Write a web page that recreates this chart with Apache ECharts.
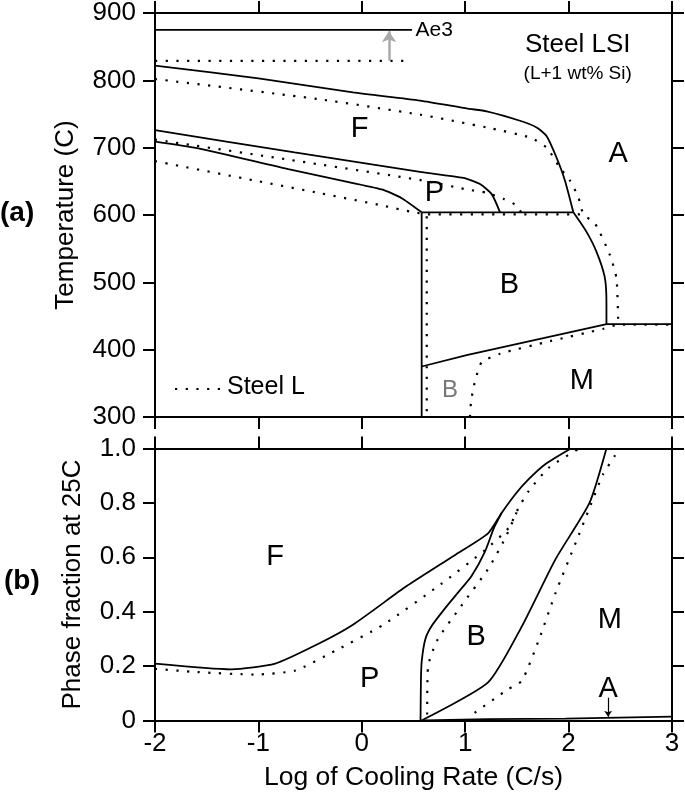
<!DOCTYPE html>
<html>
<head>
<meta charset="utf-8">
<script src="https://cdn.jsdelivr.net/npm/echarts@6/dist/echarts.min.js"></script>
<style>
html,body{margin:0;padding:0;background:#fff;}
#chart{width:685px;height:801px;}
</style>
</head>
<body>
<div id="chart"></div>
<script>
// ---------- Data ----------
// x = log10 of cooling rate (C/s)
const xTickValues = [-2, -1, 0, 1, 2, 3];
const tempTickValues = [300, 400, 500, 600, 700, 800, 900];
const fracTickValues = [0, 0.2, 0.4, 0.6, 0.8, 1.0];

// (a) Steel LSI (solid lines), temperature (C)
const lsiAe3 = [[-2, 875], [0.486, 875]];
const lsiFerriteStart = [[-2, 822], [-1, 803], [-0.086, 782], [0.563, 770], [1.025, 758], [1.208, 754], [1.53, 740], [1.691, 730], [1.788, 717], [1.884, 685], [1.965, 651], [2.046, 604]];
const lsiBainiteStart = [[2.046, 604], [2.169, 576], [2.268, 546], [2.349, 508], [2.366, 470], [2.366, 438]];
const lsiPearliteStart = [[-2, 726], [-0.65, 693], [0.563, 664], [0.982, 655], [1.143, 646], [1.256, 631], [1.337, 604]];
const lsiPearliteFinish = [[-2, 709], [-1.58, 699], [-0.711, 668], [-0.195, 651], [0.192, 638], [0.386, 625], [0.579, 604]];
const lsiBainitePlateau = [[0.579, 604], [2.046, 604]];
const lsiBainiteLeft = [[0.579, 604], [0.579, 300]];
const lsiMartensiteStart = [[0.579, 375], [1.014, 392], [2.368, 438], [3, 438]];

// (a) Steel L (dotted lines)
const lAe3 = [[-2, 829], [0.48, 829]];
const lFerriteStart = [[-2, 802], [-0.414, 772], [0.563, 749], [1.208, 730], [1.627, 715], [1.788, 700], [1.917, 670], [2.014, 651], [2.095, 626], [2.144, 601], [2.257, 587], [2.398, 541], [2.463, 506], [2.48, 437]];
const lPearliteStart = [[-2, 712], [-0.7, 682], [0.58, 651.5], [1.014, 638], [1.208, 633], [1.369, 624], [1.498, 614], [1.55, 601]];
const lPearliteFinish = [[-2, 680], [-1.03, 651], [-0.39, 632], [0.2, 614], [0.5, 604], [0.64, 601]];
const lBainitePlateau = [[0.64, 601], [2.144, 601]];
const lBainiteLeft = [[0.628, 598], [0.628, 300]];
const lMartensiteStart = [[1.046, 300], [1.056, 322], [1.078, 342], [1.111, 362], [1.16, 381.5], [1.337, 394], [1.82, 412.6], [2.336, 431], [2.48, 437], [3, 437]];

// (b) phase fraction at 25C, Steel LSI (solid)
const lsiFracF = [[-2, 0.209], [-1.264, 0.188], [-0.838, 0.209], [-0.414, 0.283], [-0.086, 0.352], [0.437, 0.495], [0.895, 0.607], [1.221, 0.688], [1.352, 0.763], [1.483, 0.831], [1.614, 0.887], [1.777, 0.943], [2.022, 1.0]];
const lsiFracP = [[0.568, 0], [0.572, 0.15], [0.58, 0.22], [0.615, 0.3], [0.68, 0.35], [0.8, 0.41], [0.93, 0.47], [1.06, 0.53], [1.19, 0.62], [1.28, 0.71], [1.352, 0.763]];
const lsiFracB = [[0.577, 0], [1.221, 0.14], [1.548, 0.346], [1.875, 0.594], [2.202, 0.8], [2.366, 1.0]];
const lsiFracA = [[0.6, 0], [1.22, 0.005], [1.97, 0.007], [3, 0.014]];
// (b) Steel L (dotted)
const lFracF = [[-2, 0.19], [-1.591, 0.178], [-1.035, 0.169], [-0.642, 0.184], [-0.25, 0.258], [0.208, 0.352], [0.764, 0.501], [1.189, 0.626], [1.418, 0.707], [1.515, 0.781], [1.614, 0.843], [1.81, 0.93], [2.104, 1.0]];
const lFracP = [[0.632, 0.022], [0.64, 0.196], [0.731, 0.296], [0.959, 0.42], [1.221, 0.557], [1.385, 0.669], [1.515, 0.781]];
const lFracB = [[1.091, 0.028], [1.418, 0.116], [1.548, 0.146], [1.712, 0.296], [1.875, 0.47], [2.072, 0.657], [2.202, 0.781], [2.333, 0.905], [2.448, 0.974], [2.47, 1.0]];

// Region labels
const topPhaseLabels = [
  {name: 'F', value: [-0.021, 727]},
  {name: 'P', value: [0.703, 633]},
  {name: 'A', value: [2.48, 690]},
  {name: 'B', value: [1.427, 496]},
  {name: 'M', value: [2.127, 354]}
];
const topGrayLabels = [{name: 'B', value: [0.853, 340]}];
const topTitleLabels = [{name: 'Steel LSI', value: [2.088, 852]}];
const topSubtitleLabels = [{name: '(L+1 wt% Si)', value: [2.088, 810]}];
const ae3Labels = [{name: 'Ae3', value: [0.52, 875]}];
const bottomPhaseLabels = [
  {name: 'F', value: [-0.838, 0.60]},
  {name: 'P', value: [0.077, 0.153]},
  {name: 'B', value: [1.107, 0.308]},
  {name: 'M', value: [2.398, 0.37]},
  {name: 'A', value: [2.382, 0.116]}
];
const legendLabel = 'Steel L';
const ae3Arrow = [[0.263, 829], [0.263, 873]];
const aArrow = [[2.382, 0.084], [2.382, 0.014]];

// ---------- Chart ----------
const FONT = "'Liberation Sans', Arial, Helvetica, sans-serif";
const chart = echarts.init(document.getElementById('chart'), null, {renderer: 'canvas'});

function xAx(gridIndex, position, showLabel) {
  return {
    type: 'value', gridIndex, position, min: -2, max: 3, interval: 1,
    axisLine: {show: true, onZero: false, lineStyle: {color: '#000', width: 2}},
    axisTick: {show: true, inside: false, length: 12, lineStyle: {color: '#000', width: 2}},
    splitLine: {show: false},
    axisLabel: {show: showLabel, color: '#000', fontSize: 26, fontFamily: FONT, margin: 10},
    name: showLabel ? 'Log of Cooling Rate (C/s)' : '',
    nameLocation: 'middle', nameGap: 44,
    nameTextStyle: {color: '#000', fontSize: 26.5, fontFamily: FONT}
  };
}
function yAx(gridIndex, position, min, max, interval, showLabel, name, nameGap, fmt) {
  return {
    type: 'value', gridIndex, position, min, max, interval,
    axisLine: {show: true, onZero: false, lineStyle: {color: '#000', width: 2}},
    axisTick: {show: true, inside: false, length: 12, lineStyle: {color: '#000', width: 2}},
    splitLine: {show: false},
    axisLabel: {show: showLabel, color: '#000', fontSize: 26, fontFamily: FONT, margin: 19, formatter: fmt},
    name: name || '', nameLocation: 'middle', nameGap: nameGap || 0,
    nameTextStyle: {color: '#000', fontSize: 26, fontFamily: FONT}
  };
}

function solid(name, data, xi, yi, smooth) {
  return {type: 'line', name, data, xAxisIndex: xi, yAxisIndex: yi, showSymbol: false, symbol: 'none',
    smooth: smooth || false,
    lineStyle: {color: '#000', width: 1.8, type: 'solid'}, silent: true, z: 3};
}
function dotted(name, data, xi, yi, smooth) {
  return {type: 'line', name, data, xAxisIndex: xi, yAxisIndex: yi, showSymbol: false, symbol: 'none',
    smooth: smooth || false,
    lineStyle: {color: '#000', width: 2.2, type: [2.2, 8.5]}, silent: true, z: 3};
}
function textSeries(data, xi, yi, size, color, align, weight) {
  return {type: 'scatter', data, xAxisIndex: xi, yAxisIndex: yi, symbolSize: 1,
    itemStyle: {color: 'rgba(0,0,0,0)', opacity: 1}, silent: true, z: 5,
    label: {show: true, position: 'inside', formatter: p => p.name, color, fontSize: size,
      fontFamily: FONT, fontWeight: weight || 'normal', align: align || 'center', verticalAlign: 'middle',
      textBorderWidth: 0}};
}
function arrow(data, xi, yi, color, width, size) {
  return {type: 'lines', coordinateSystem: 'cartesian2d', xAxisIndex: xi, yAxisIndex: yi, silent: true, z: 4,
    symbol: ['none', 'arrow'], symbolSize: size,
    lineStyle: {color, width, opacity: 1}, data: [{coords: data}]};
}

const fracFmt = v => (v === 0 ? '0' : v.toFixed(1));
const SM = 0.2;

const option = {
  animation: false,
  backgroundColor: '#fff',
  grid: [
    {left: 155, right: 13, top: 12, height: 405},
    {left: 155, right: 13, top: 448.5, height: 272}
  ],
  xAxis: [xAx(0, 'bottom', false), xAx(0, 'top', false), xAx(1, 'bottom', true), xAx(1, 'top', false)],
  yAxis: [
    yAx(0, 'left', 300, 900, 100, true, 'Temperature (C)', 76),
    yAx(0, 'right', 300, 900, 100, false),
    yAx(1, 'left', 0, 1, 0.2, true, 'Phase fraction at 25C', 69, fracFmt),
    yAx(1, 'right', 0, 1, 0.2, false)
  ],
  graphic: [
    {type: 'text', left: 0, top: 199, style: {text: '(a)', font: "bold 28px 'Liberation Sans'", fill: '#000'}},
    {type: 'text', left: 4, top: 567, style: {text: '(b)', font: "bold 28px 'Liberation Sans'", fill: '#000'}},
    // legend sample for the dotted "Steel L" curves
    {type: 'line', shape: {x1: 175, y1: 389, x2: 221, y2: 389},
      style: {stroke: '#000', lineWidth: 2.2, lineDash: [2.2, 8.5]}, z: 10},
    {type: 'text', left: 227, top: 375, style: {text: legendLabel, font: "25px 'Liberation Sans'", fill: '#000'}, z: 10}
  ],
  series: [
    solid('lsiAe3', lsiAe3, 0, 0),
    solid('lsiFerriteStart', lsiFerriteStart, 0, 0, SM),
    solid('lsiBainiteStart', lsiBainiteStart, 0, 0, SM),
    solid('lsiPearliteStart', lsiPearliteStart, 0, 0, SM),
    solid('lsiPearliteFinish', lsiPearliteFinish, 0, 0, SM),
    solid('lsiBainitePlateau', lsiBainitePlateau, 0, 0),
    solid('lsiBainiteLeft', lsiBainiteLeft, 0, 0),
    solid('lsiMartensiteStart', lsiMartensiteStart, 0, 0),
    dotted('lAe3', lAe3, 0, 0),
    dotted('Steel L', lFerriteStart, 0, 0, SM),
    dotted('lPearliteStart', lPearliteStart, 0, 0, SM),
    dotted('lPearliteFinish', lPearliteFinish, 0, 0, SM),
    dotted('lBainitePlateau', lBainitePlateau, 0, 0),
    dotted('lBainiteLeft', lBainiteLeft, 0, 0),
    dotted('lMartensiteStart', lMartensiteStart, 0, 0, SM),
    solid('lsiFracF', lsiFracF, 2, 2, SM),
    solid('lsiFracP', lsiFracP, 2, 2, SM),
    solid('lsiFracB', lsiFracB, 2, 2, SM),
    solid('lsiFracA', lsiFracA, 2, 2),
    dotted('lFracF', lFracF, 2, 2, SM),
    dotted('lFracP', lFracP, 2, 2, SM),
    dotted('lFracB', lFracB, 2, 2, SM),
    arrow(ae3Arrow, 0, 0, '#aaaaaa', 2.5, 11),
    arrow(aArrow, 2, 2, '#000', 1.2, 6),
    textSeries(topPhaseLabels, 0, 0, 29, '#000'),
    textSeries(topGrayLabels, 0, 0, 24, '#777'),
    textSeries(topTitleLabels, 0, 0, 26, '#000'),
    textSeries(topSubtitleLabels, 0, 0, 19, '#000'),
    textSeries(ae3Labels, 0, 0, 21, '#000', 'left'),
    textSeries(bottomPhaseLabels, 2, 2, 29, '#000')
  ]
};
chart.setOption(option);
</script>
</body>
</html>
